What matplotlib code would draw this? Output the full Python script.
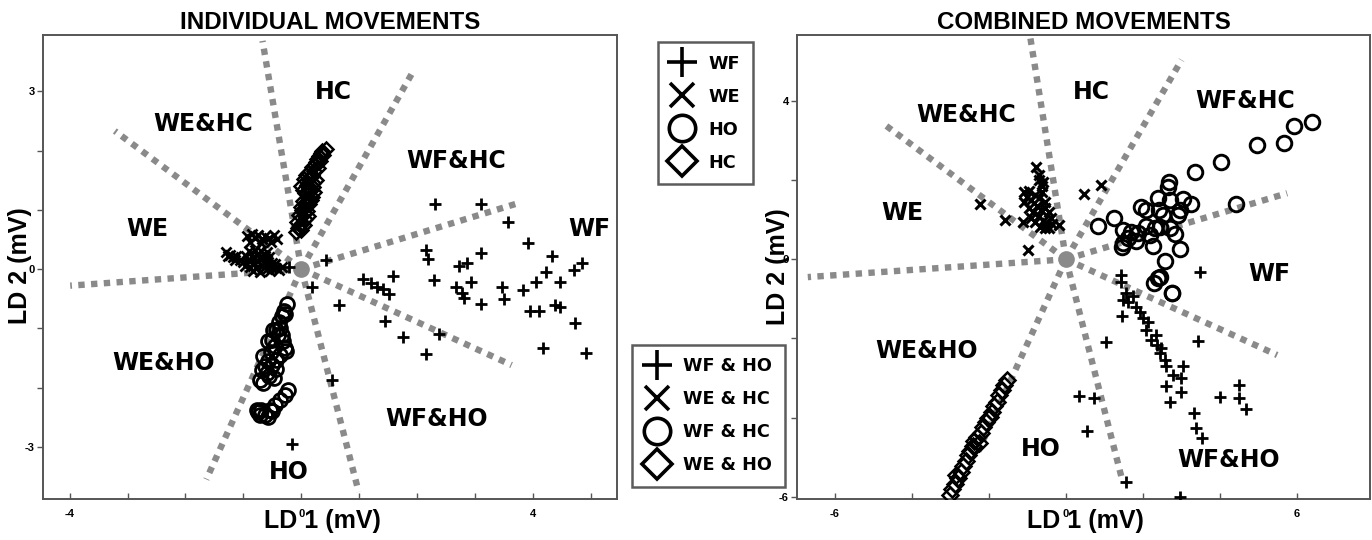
import matplotlib
matplotlib.use("Agg")
import matplotlib.pyplot as plt
from matplotlib.font_manager import FontProperties
from matplotlib.lines import Line2D

# ---- individual movements -------------------------------------------------
ind_wf_x = [2.31, 3.11, 3.57, 3.91, 4.33, 4.84, 4.71, 4.23, 4.46, 4.05,
            3.82, 3.46, 3.50, 3.95, 4.10, 4.38, 4.46, 4.72, 4.18, 4.91,
            3.11, 2.81, 2.77, 2.67, 2.93, 2.73, 2.86, 3.11, 2.16, 2.18,
            2.29, 1.59, 1.07, 1.21, 1.31, 1.41, 1.52, 0.43, 0.19, 0.65,
            1.45, 1.76, 2.37, 2.15, 0.53, -0.16, -0.21]
ind_wf_y = [1.10, 1.09, 0.80, 0.44, 0.22, 0.11, -0.02, -0.05, -0.21, -0.22,
            -0.35, -0.30, -0.50, -0.70, -0.71, -0.60, -0.64, -0.91, -1.33, -1.42,
            -0.59, -0.49, -0.41, -0.30, -0.22, 0.06, 0.11, 0.27, 0.33, 0.17,
            -0.18, -0.12, -0.16, -0.24, -0.30, -0.34, -0.42, 0.15, -0.30, -0.60,
            -0.88, -1.15, -1.09, -1.43, -1.87, -2.95, 0.04]

ind_we_x = [-0.93, -0.86, -0.80, -0.74, -0.68, -0.62, -0.55, -0.48, -0.42, -0.88,
            -0.70, -0.52, -1.30, -1.24, -1.18, -1.12, -1.06, -1.00, -0.90, -0.80,
            -0.70, -0.60, -0.92, -0.84, -0.75, -0.66, -0.58, -0.50, -0.88, -0.78,
            -0.68, -0.60, -0.52, -0.44, -0.38, -0.72, -0.84, -0.62, -0.96, -0.76,
            -0.64, -0.56, -0.46, -0.82, -0.72, -0.54, -0.34, -1.27, -1.15, -0.98]
ind_we_y = [0.55, 0.60, 0.52, 0.58, 0.50, 0.56, 0.52, 0.58, 0.50, 0.45,
            0.44, 0.45, 0.28, 0.24, 0.20, 0.22, 0.16, 0.12, 0.30, 0.32,
            0.30, 0.28, 0.15, 0.18, 0.14, 0.18, 0.12, 0.10, 0.04, 0.02,
            0.05, 0.00, 0.03, 0.02, -0.02, -0.05, -0.03, 0.22, 0.22, 0.24,
            0.10, 0.20, 0.08, 0.10, 0.20, -0.04, 0.04, 0.22, 0.16, 0.06]

ind_ho_x = [-0.25, -0.30, -0.34, -0.38, -0.43, -0.37, -0.49, -0.34, -0.51, -0.57,
            -0.28, -0.45, -0.26, -0.66, -0.43, -0.63, -0.51, -0.43, -0.55, -0.72,
            -0.66, -0.60, -0.23, -0.28, -0.37, -0.46, -0.54, -0.63, -0.72, -0.77,
            -0.74, -0.58, -0.69, -0.50, -0.28, -0.40, -0.31, -0.52, -0.36, -0.58,
            -0.48, -0.68]
ind_ho_y = [-0.59, -0.70, -0.80, -0.90, -1.02, -0.99, -1.02, -1.11, -1.19, -1.22,
            -1.33, -1.30, -1.39, -1.47, -1.53, -1.64, -1.62, -1.69, -1.80, -1.87,
            -1.93, -1.75, -2.04, -2.12, -2.21, -2.29, -2.37, -2.46, -2.46, -2.37,
            -2.42, -2.49, -2.37, -2.40, -0.76, -1.12, -1.22, -1.40, -1.45, -1.55,
            -1.84, -1.70]

ind_hc_x = [-0.10, -0.05, 0.00, -0.08, 0.02, 0.06, -0.04, 0.04, 0.10, 0.00,
            0.08, 0.14, 0.03, 0.12, 0.18, 0.06, 0.15, 0.22, 0.00, 0.10,
            0.20, 0.05, 0.16, 0.26, 0.12, 0.22, 0.18, 0.28, 0.25, 0.32,
            0.30, 0.38, 0.35, 0.42, -0.02, 0.05, 0.11, 0.01, 0.09, 0.17,
            0.03, 0.13, 0.21, 0.08, 0.19, 0.24, 0.27, 0.34]
ind_hc_y = [0.62, 0.70, 0.66, 0.80, 0.78, 0.85, 0.92, 0.95, 0.98, 1.05,
            1.08, 1.10, 1.15, 1.20, 1.22, 1.28, 1.32, 1.30, 1.40, 1.42,
            1.45, 1.52, 1.55, 1.50, 1.62, 1.65, 1.72, 1.70, 1.80, 1.82,
            1.90, 1.92, 2.00, 2.02, 0.74, 0.74, 0.90, 1.00, 1.14, 1.16,
            1.34, 1.36, 1.38, 1.58, 1.58, 1.76, 1.86, 1.96]

# decision boundaries, drawn as rays from the origin
ind_ray_x = [-0.67, 1.95, 3.77, -3.22, -3.99, 3.63, 0.99, -1.64]
ind_ray_y = [3.85, 3.37, 1.12, 2.33, -0.28, -1.62, -3.76, -3.55]

ind_regions = ["HC", "WE&HC", "WF&HC", "WE", "WF", "WE&HO", "WF&HO", "HO"]
ind_region_x = [0.56, -1.69, 2.67, -2.65, 4.98, -2.37, 2.33, -0.22]
ind_region_y = [2.98, 2.45, 1.83, 0.67, 0.67, -1.58, -2.53, -3.43]

# ---- combined movements ---------------------------------------------------
comb_wfho_x = [3.49, 1.43, 1.43, 1.48, 1.56, 1.74, 1.61, 1.82, 1.91, 1.46,
               2.00, 2.12, 2.08, 2.33, 2.21, 2.35, 2.47, 2.43, 2.56, 2.60,
               3.03, 2.79, 2.99, 2.60, 2.98, 2.69, 1.03, 3.42, 0.33, 0.74,
               0.54, 3.99, 4.49, 4.50, 4.68, 3.32, 3.38, 3.53, 1.56, 2.95]
comb_wfho_y = [-0.31, -0.40, -0.57, -1.03, -0.86, -0.94, -1.07, -1.20, -1.32, -1.43,
               -1.49, -1.58, -1.79, -1.91, -2.04, -2.17, -2.25, -2.38, -2.54, -2.71,
               -2.70, -2.92, -3.01, -3.20, -3.35, -3.60, -2.08, -2.06, -3.45, -3.51,
               -4.34, -3.47, -3.18, -3.51, -3.79, -3.88, -4.27, -4.52, -5.62, -6.00]

comb_wehc_x = [-2.24, -1.58, -1.12, -0.99, -0.77, -0.69, -0.60, -0.17, 0.46, 0.90,
               -1.10, -1.02, -0.95, -1.08, -0.90, -0.80, -0.70, -0.62, -0.55, -0.95,
               -0.85, -0.75, -0.65, -0.55, -0.45, -0.40, -0.90, -0.80, -0.70, -0.60,
               -0.50, -0.35, -0.68, -0.55, -0.45, -0.62, -0.70]
comb_wehc_y = [1.40, 0.99, 0.93, 0.24, 2.34, 2.13, 1.96, 0.87, 1.64, 1.88,
               1.70, 1.58, 1.72, 1.45, 1.50, 1.62, 1.55, 1.70, 1.45, 1.30,
               1.20, 1.35, 1.25, 1.30, 1.20, 1.05, 1.05, 0.95, 1.10, 0.98,
               0.92, 0.90, 0.82, 0.80, 0.78, 1.85, 2.00]

comb_wfhc_x = [6.38, 5.93, 5.65, 4.96, 4.03, 3.34, 4.42, 2.67, 2.64, 2.39,
               2.69, 3.03, 3.25, 1.95, 2.07, 2.41, 2.52, 2.95, 2.92, 1.24,
               0.83, 1.48, 1.69, 1.87, 2.08, 2.30, 2.45, 2.69, 2.84, 2.17,
               1.82, 1.48, 1.45, 1.61, 2.26, 2.97, 2.56, 2.43, 2.28, 2.76,
               2.38, 2.75]
comb_wfhc_y = [3.46, 3.38, 2.93, 2.89, 2.47, 2.21, 1.41, 1.96, 1.82, 1.54,
               1.50, 1.52, 1.40, 1.31, 1.25, 1.25, 1.12, 1.25, 1.12, 1.04,
               0.84, 0.74, 0.70, 0.66, 0.84, 0.78, 0.81, 0.78, 0.64, 0.61,
               0.45, 0.40, 0.32, 0.53, 0.34, 0.26, -0.04, -0.46, -0.61, -0.86,
               -0.48, -0.84]

comb_weho_x = [-3.02, -2.95, -2.88, -2.80, -2.85, -2.72, -2.68, -2.60, -2.55, -2.48,
               -2.42, -2.38, -2.30, -2.26, -2.20, -2.15, -2.08, -2.02, -1.96, -1.92,
               -1.86, -1.80, -1.73, -1.66, -1.60, -1.53]
comb_weho_y = [-5.96, -5.80, -5.68, -5.52, -5.45, -5.38, -5.22, -5.10, -4.95, -4.85,
               -4.72, -4.60, -4.50, -4.65, -4.38, -4.25, -4.12, -4.02, -3.98, -3.85,
               -3.72, -3.60, -3.43, -3.30, -3.18, -3.05]

comb_ray_x = [-0.93, 3.00, 5.74, -4.77, -6.70, 5.48, 1.47, -2.30]
comb_ray_y = [5.63, 5.04, 1.67, 3.45, -0.45, -2.42, -5.62, -4.90]

comb_regions = ["HC", "WE&HC", "WF&HC", "WE", "WF", "WE&HO", "HO", "WF&HO"]
comb_region_x = [0.65, -2.60, 4.64, -4.24, 5.29, -3.61, -0.65, 4.21]
comb_region_y = [4.24, 3.64, 4.01, 1.16, -0.37, -2.32, -4.79, -5.07]

single_labels = ["WF", "WE", "HO", "HC"]
combo_labels = ["WF & HO", "WE & HC", "WF & HC", "WE & HO"]

GRAY = "#8a8a8a"
FRAME = "#555555"
label_font = ["Liberation Sans", "DejaVu Sans"]


def draw_boundaries(ax, ray_x, ray_y):
    for ex, ey in zip(ray_x, ray_y):
        ax.plot([0, ex], [0, ey], color=GRAY, lw=4.6, linestyle=(0, (1, 1)),
                dash_capstyle="butt", zorder=1)
    ax.plot(0, 0, "o", ms=11, color=GRAY, zorder=1.5)


def style_axes(ax, xticks, xlabels, yticks, ylabels, title, xlab_pos, ylab_pos):
    for side in ax.spines.values():
        side.set_color(FRAME)
        side.set_linewidth(1.4)
    ax.set_xticks(xticks, xlabels)
    ax.set_yticks(yticks, ylabels)
    ax.tick_params(axis="x", direction="in", length=4, width=1, color=FRAME, pad=7)
    ax.tick_params(axis="y", direction="out", length=4, width=1, color=FRAME, pad=2)
    for t in ax.get_xticklabels() + ax.get_yticklabels():
        t.set_fontfamily(label_font)
        t.set_fontweight("bold")
        t.set_fontsize(8)
    ax.set_title(title, fontfamily=label_font, fontweight="bold", fontsize=17.4, pad=4)
    ax.set_xlabel("LD 1 (mV)", fontfamily=label_font, fontweight="bold", fontsize=18,
                  va="center")
    ax.set_ylabel("LD 2 (mV)", fontfamily=label_font, fontweight="bold", fontsize=18,
                  va="center")
    ax.xaxis.set_label_coords(*xlab_pos)
    ax.yaxis.set_label_coords(*ylab_pos)


def draw_regions(ax, names, xs, ys):
    for name, x, y in zip(names, xs, ys):
        ax.text(x, y, name, ha="center", va="center", fontfamily="DejaVu Sans",
                fontweight="bold", fontsize=17, zorder=5)


fig = plt.figure(figsize=(13.72, 5.40), dpi=100)
ax1 = fig.add_axes([43 / 1372, 41 / 540, 574 / 1372, 464 / 540])
ax2 = fig.add_axes([797 / 1372, 41 / 540, 573 / 1372, 464 / 540])

# individual movements
draw_boundaries(ax1, ind_ray_x, ind_ray_y)
ax1.plot(ind_wf_x, ind_wf_y, "+", color="black", ms=9, mew=2.0, zorder=3)
ax1.plot(ind_we_x, ind_we_y, "x", color="black", ms=6.5, mew=2.0, zorder=3)
ax1.plot(ind_ho_x, ind_ho_y, "o", color="black", mfc="none", ms=10, mew=2.0, zorder=3)
ax1.plot(ind_hc_x, ind_hc_y, "D", color="black", mfc="none", ms=7.5, mew=1.8, zorder=3)
draw_regions(ax1, ind_regions, ind_region_x, ind_region_y)
ax1.set_xlim(-4.46, 5.45)
ax1.set_ylim(-3.88, 3.95)
style_axes(ax1, range(-4, 6), ["-4", "", "", "", "0", "", "", "", "4", ""],
           range(-3, 4), ["-3", "", "", "0", "", "", "3"],
           "INDIVIDUAL MOVEMENTS", (0.486, -0.047), (-0.040, 0.502))

# combined movements
draw_boundaries(ax2, comb_ray_x, comb_ray_y)
ax2.plot(comb_wfho_x, comb_wfho_y, "+", color="black", ms=9, mew=2.0, zorder=3)
ax2.plot(comb_wehc_x, comb_wehc_y, "x", color="black", ms=7, mew=2.2, zorder=3)
ax2.plot(comb_wfhc_x, comb_wfhc_y, "o", color="black", mfc="none", ms=10.5, mew=2.1, zorder=3)
ax2.plot(comb_weho_x, comb_weho_y, "D", color="black", mfc="none", ms=8, mew=1.8, zorder=3)
draw_regions(ax2, comb_regions, comb_region_x, comb_region_y)
ax2.set_xlim(-6.98, 7.89)
ax2.set_ylim(-6.06, 5.67)
style_axes(ax2, range(-6, 7, 2), ["-6", "", "", "0", "", "", "6"],
           range(-6, 5, 2), ["-6", "", "", "0", "", "4"],
           "COMBINED MOVEMENTS", (0.504, -0.047), (-0.033, 0.5))

# shared legends between the two panels
legend_font = FontProperties(family="DejaVu Sans", weight="bold", size=12.7)


def marker_handles():
    specs = [("+", 21), ("x", 17), ("o", 19), ("D", 15)]
    return [Line2D([], [], ls="none", marker=m, ms=s, mew=2.6, color="black", mfc="none")
            for m, s in specs]


for labels, anchor in [(single_labels, (657.7, 42.3)), (combo_labels, (632.3, 345.0))]:
    leg = fig.legend(marker_handles(), labels, loc="upper left",
                     bbox_to_anchor=(anchor[0] / 1372, 1 - anchor[1] / 540),
                     bbox_transform=fig.transFigure, borderaxespad=0, prop=legend_font,
                     frameon=True, fancybox=False, edgecolor="#333333",
                     handlelength=1.4, handletextpad=0.8, borderpad=0.7,
                     labelspacing=0.85)
    leg.get_frame().set_linewidth(1.8)

fig.savefig("out.png", dpi=100)
